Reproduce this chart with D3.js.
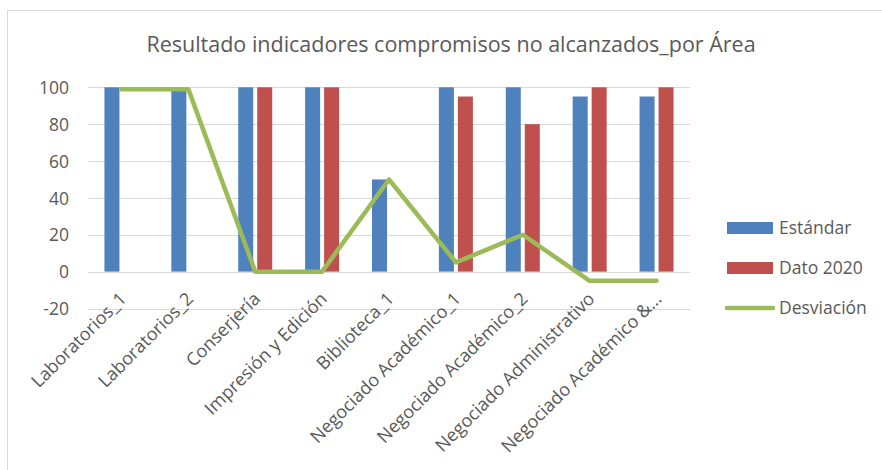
<!DOCTYPE html>
<html>
<head>
<meta charset="utf-8">
<script src="https://cdn.jsdelivr.net/npm/d3@7"></script>
<style>
  body { margin: 0; background: #fff; }
  svg text { font-family: "Open Sans", Lato, sans-serif; fill: #595959; }
</style>
</head>
<body>
<svg></svg>
<script>
const categories = ["Laboratorios_1", "Laboratorios_2", "Conserjería", "Impresión y Edición", "Biblioteca_1",
  "Negociado Académico_1", "Negociado Académico_2", "Negociado Administrativo", "Negociado Académico &…"];
const estandar = [100, 99, 100, 100, 50, 100, 100, 95, 95];
const dato2020 = [0, 0, 100, 100, 0, 95, 80, 100, 100];
const desviacion = [99, 99, 0, 0, 50, 5, 20, -5, -5];
const yTicks = [-20, 0, 20, 40, 60, 80, 100];
const seriesNames = ["Estándar", "Dato 2020", "Desviación"];

const BLUE = "#4F81BD", RED = "#C0504D", GREEN = "#9BBB59";
const width = 882, height = 470;
const plot = { left: 88, right: 690, top: 87.3, bottom: 308.5 };

const svg = d3.select("svg").attr("width", width).attr("height", height);

// chart border
svg.append("rect")
  .attr("x", 7.5).attr("y", 10.5)
  .attr("width", 900).attr("height", 500)
  .attr("fill", "none").attr("stroke", "#D9D9D9");

svg.append("text")
  .attr("x", 451).attr("y", 52)
  .attr("text-anchor", "middle")
  .attr("font-size", 21.5)
  .text("Resultado indicadores compromisos no alcanzados_por Área");

const x = d3.scaleBand().domain(categories).range([plot.left, plot.right]);
const step = x.step();
const x1 = d3.scaleBand().domain([0, 1])
  .range([(step - 34) / 2, (step + 34) / 2]).paddingInner(0.21);
const y = d3.scaleLinear().domain([-20, 100]).range([plot.bottom, plot.top]);

// gridlines
svg.append("g")
  .selectAll("line")
  .data(yTicks)
  .enter()
  .append("line")
  .attr("x1", plot.left).attr("x2", plot.right)
  .attr("y1", d => Math.round(y(d)) + 0.5).attr("y2", d => Math.round(y(d)) + 0.5)
  .attr("stroke", "#D9D9D9").attr("stroke-width", 1.2);

// y labels
const yAxis = d3.axisLeft(y).tickValues(yTicks).tickSize(0).tickPadding(0)
  .tickFormat(d => String(d));
svg.append("g")
  .attr("transform", `translate(69,0)`)
  .call(yAxis)
  .call(g => g.select(".domain").remove())
  .selectAll("text")
  .attr("font-size", 17.5)
  .attr("font-family", null)
  .attr("dy", "0.35em")
  .style("fill", "#595959");

// bars
const barData = [];
categories.forEach((c, i) => {
  barData.push({ cat: c, s: 0, v: estandar[i], color: BLUE });
  barData.push({ cat: c, s: 1, v: dato2020[i], color: RED });
});
svg.append("g")
  .selectAll("rect")
  .data(barData.filter(d => d.v !== 0))
  .enter()
  .append("rect")
  .attr("x", d => x(d.cat) + x1(d.s))
  .attr("width", x1.bandwidth())
  .attr("y", d => y(Math.max(0, d.v)))
  .attr("height", d => Math.abs(y(d.v) - y(0)))
  .attr("fill", d => d.color);

// line
const line = d3.line()
  .x((d, i) => x(categories[i]) + step / 2)
  .y(d => y(d));
svg.append("path")
  .datum(desviacion)
  .attr("d", line)
  .attr("fill", "none")
  .attr("stroke", GREEN)
  .attr("stroke-width", 4.5)
  .attr("stroke-linejoin", "round")
  .attr("stroke-linecap", "round");

// x labels
svg.append("g")
  .selectAll("text")
  .data(categories)
  .enter()
  .append("text")
  .attr("transform", d => `translate(${x(d) + step / 2 + 6},${300}) rotate(-45)`)
  .attr("text-anchor", "end")
  .attr("font-size", 18)
  .text(d => d);

// legend
const legend = svg.append("g").attr("transform", "translate(727,222)");
seriesNames.forEach((name, i) => {
  const g = legend.append("g").attr("transform", `translate(0,${i * 40})`);
  if (i < 2) {
    g.append("rect").attr("width", 46).attr("height", 12)
      .attr("fill", i === 0 ? BLUE : RED);
  } else {
    g.append("line").attr("x1", 0).attr("x2", 46).attr("y1", 6).attr("y2", 6)
      .attr("stroke", GREEN).attr("stroke-width", 4.5).attr("stroke-linecap", "round");
  }
  g.append("text").attr("x", 52).attr("y", 6).attr("dy", "0.35em")
    .attr("font-size", 17.5).text(name);
});
</script>
</body>
</html>
